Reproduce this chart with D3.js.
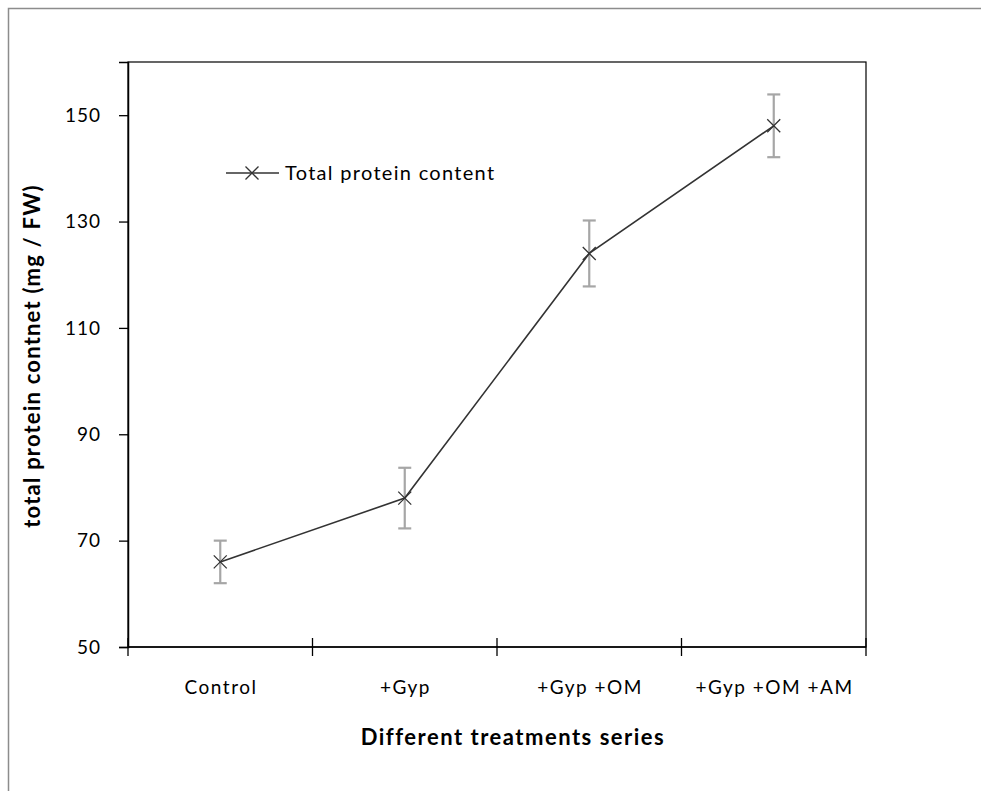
<!DOCTYPE html>
<html><head><meta charset="utf-8">
<script src="https://cdn.jsdelivr.net/npm/d3@7"></script>
<style>body{margin:0;background:#fff}svg{display:block}text{font-family:Lato,"Open Sans",sans-serif;fill:#000}</style>
</head><body>
<svg id="c" width="981" height="791"></svg>
<script>
const categories = ["Control", "+Gyp", "+Gyp +OM", "+Gyp +OM +AM"];
const values = [66, 78, 124, 148];
const errors = [4, 5.7, 6.2, 5.9];
const yTicks = [50, 70, 90, 110, 130, 150];
const seriesName = "Total protein content";
const xTitle = "Different treatments series";
const yTitle = "total protein contnet (mg / FW)";

const svg = d3.select("#c");
const L = 128, R = 866, T = 62, B = 647;

// outer frame
svg.append("path").attr("d", "M8.5,791 L8.5,8.5 L981,8.5").attr("fill","none").attr("stroke","#8c8c8c").attr("stroke-width",1.5);

const x = d3.scaleBand().domain(categories).range([L, R]).paddingInner(0).paddingOuter(0);
const y = d3.scaleLinear().domain([50, 160]).range([B, T]);

// plot frame
svg.append("rect").attr("x", L).attr("y", T).attr("width", R - L).attr("height", B - T)
  .attr("fill", "none").attr("stroke", "#000").attr("stroke-width", 1.2);

// y axis
const yAx = svg.append("g").attr("transform", `translate(${L},0)`)
  .call(d3.axisLeft(y).tickValues(yTicks).tickSize(9).tickPadding(18));
yAx.select(".domain").attr("stroke","#000").attr("stroke-width",1.5);
yAx.selectAll(".tick line").attr("stroke","#000").attr("stroke-width",1.3);
yAx.selectAll(".tick text").style("font-size","19px").style("font-family","Lato,sans-serif").attr("fill","#000").attr("letter-spacing","1px");

// x axis with crossing ticks at band boundaries
const xAx = svg.append("g").attr("transform", `translate(0,${B})`);
xAx.append("line").attr("x1", L).attr("x2", R).attr("stroke","#000").attr("stroke-width",1.5);
const bounds = categories.map(c => x(c)).concat([x(categories[categories.length-1]) + x.bandwidth()]);
xAx.selectAll("line.tk").data(bounds).join("line").attr("class","tk")
  .attr("x1", d => d).attr("x2", d => d).attr("y1", -9).attr("y2", 9)
  .attr("stroke","#000").attr("stroke-width",1.3);
xAx.selectAll("text").data(categories).join("text")
  .attr("x", d => x(d) + x.bandwidth()/2 + 0.75).attr("y", 47)
  .attr("text-anchor","middle").style("font-size","19px").attr("letter-spacing","1.5px").text(d => d);

const cx = d => x(d) + x.bandwidth()/2;

// error bars
const eb = svg.append("g").attr("stroke","#a6a6a6").attr("stroke-width",2.2).attr("fill","none");
categories.forEach((c, i) => {
  const px = cx(c), top = y(values[i] + errors[i]), bot = y(values[i] - errors[i]);
  eb.append("line").attr("x1", px).attr("x2", px).attr("y1", top).attr("y2", bot);
  eb.append("line").attr("x1", px - 6.5).attr("x2", px + 6.5).attr("y1", top).attr("y2", top);
  eb.append("line").attr("x1", px - 6.5).attr("x2", px + 6.5).attr("y1", bot).attr("y2", bot);
});

// line
const line = d3.line().x((d, i) => cx(categories[i])).y(d => y(d));
svg.append("path").datum(values).attr("d", line).attr("fill","none").attr("stroke","#333").attr("stroke-width",1.6);

// markers
const mk = (g, px, py, s) => {
  g.append("path").attr("d", `M${px-s},${py-s}L${px+s},${py+s}M${px-s},${py+s}L${px+s},${py-s}`)
    .attr("stroke","#333").attr("stroke-width",1.3).attr("fill","none");
};
const mg = svg.append("g");
values.forEach((v, i) => mk(mg, cx(categories[i]), y(v), 6.5));

// legend
const lg = svg.append("g");
lg.append("line").attr("x1", 226).attr("x2", 279).attr("y1", 173).attr("y2", 173).attr("stroke","#333").attr("stroke-width",1.6);
mk(lg, 252, 173, 6.5);
lg.append("text").attr("x", 285).attr("y", 180).style("font-size","20px").attr("letter-spacing","1.3px").text(seriesName);

// titles
svg.append("text").attr("x", 513).attr("y", 745).attr("text-anchor","middle")
  .style("font-size","22px").style("font-weight","bold").attr("letter-spacing","1.5px").text(xTitle);
svg.append("text").attr("transform", `translate(40,356) rotate(-90)`).attr("text-anchor","middle")
  .style("font-size","22px").style("font-weight","bold").attr("letter-spacing","1.2px").text(yTitle);
</script>
</body></html>
